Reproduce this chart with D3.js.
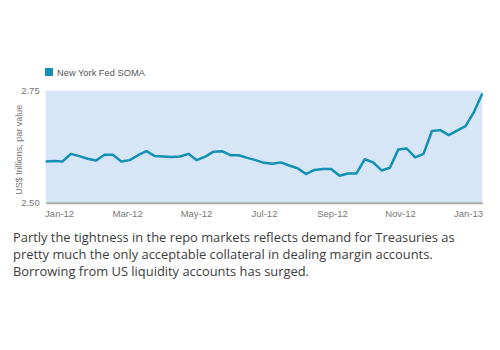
<!DOCTYPE html>
<html><head><meta charset="utf-8">
<script src="https://cdn.jsdelivr.net/npm/d3@7"></script>
<style>body{margin:0;background:#fff}svg{display:block}</style>
</head><body>
<svg id="c" width="500" height="350"></svg>
<script>
// Weekly SOMA holdings (US$ trillions, par value), Jan-12 to Jan-13
const values = [2.592,2.593,2.592,2.609,2.604,2.598,2.594,2.607,2.607,2.592,
  2.595,2.606,2.615,2.604,2.603,2.602,2.603,2.609,2.595,2.603,
  2.614,2.615,2.606,2.606,2.600,2.595,2.589,2.587,2.590,2.583,
  2.577,2.564,2.573,2.575,2.575,2.560,2.565,2.565,2.597,2.590,
  2.572,2.578,2.619,2.621,2.601,2.609,2.660,2.662,2.651,2.661,
  2.671,2.702,2.744];
const tickLabels = ["Jan-12","Mar-12","May-12","Jul-12","Sep-12","Nov-12","Jan-13"];
const tickAt = [1.6,9.7,17.9,26.0,34.1,42.2,50.3];
const yTicks = [2.50, 2.75];
const seriesName = "New York Fed SOMA";
const yTitle = "US$ trillions, par value";
const caption = ["Partly the tightness in the repo markets reflects demand for Treasuries as",
  "pretty much the only acceptable collateral in dealing margin accounts.",
  "Borrowing from US liquidity accounts has surged."];

const svg = d3.select("#c");
const L=45.7, R=482.3, T=90.7, B=202.7;
const x = d3.scaleLinear().domain([0, values.length-1]).range([L,R]);
const y = d3.scaleLinear().domain([2.50, 2.75]).range([B,T]);
const lineColor = "#1390b5";
const sans = "Liberation Sans, Arial, sans-serif";

svg.append("rect").attr("x",L).attr("y",T).attr("width",R-L).attr("height",B-T).attr("fill","#d6e6f6");

// legend
svg.append("rect").attr("x",45).attr("y",68).attr("width",8).attr("height",8).attr("fill",lineColor);
svg.append("text").attr("x",57).attr("y",76).text(seriesName)
  .attr("font-family",sans).attr("font-size",9.3).attr("fill","#555");

// y axis
const ya = svg.append("g").attr("transform",`translate(${L},0)`)
  .call(d3.axisLeft(y).tickValues(yTicks).tickFormat(d3.format(".2f")).tickSize(0).tickPadding(6));
ya.select(".domain").remove();
ya.selectAll("text").attr("font-family",sans).attr("font-size",9.5).attr("fill","#777");

svg.append("text").attr("transform",`translate(22,${(T+B)/2+3}) rotate(-90)`).attr("text-anchor","middle")
  .text(yTitle).attr("font-family",sans).attr("font-size",9).attr("fill","#777");

// x axis
const xa = svg.append("g").attr("transform",`translate(0,${B})`)
  .call(d3.axisBottom(x).tickValues(tickAt).tickFormat((d,i)=>tickLabels[i]).tickSize(0).tickPadding(8));
xa.select(".domain").attr("stroke","#a9a9a9").attr("stroke-width",2);
xa.selectAll("text").attr("font-family",sans).attr("font-size",9.5).attr("fill","#777");

// line
svg.append("path").datum(values)
  .attr("d", d3.line().x((d,i)=>x(i)).y(d=>y(d)))
  .attr("fill","none").attr("stroke",lineColor).attr("stroke-width",2.5).attr("stroke-linejoin","round");

// caption
svg.append("g").selectAll("text").data(caption).join("text")
  .attr("x",13).attr("y",(d,i)=>242.3+i*16.7).text(d=>d)
  .attr("font-family","Open Sans, sans-serif").attr("font-size",12.9).attr("fill","#3c3c3c");
</script>
</body></html>
